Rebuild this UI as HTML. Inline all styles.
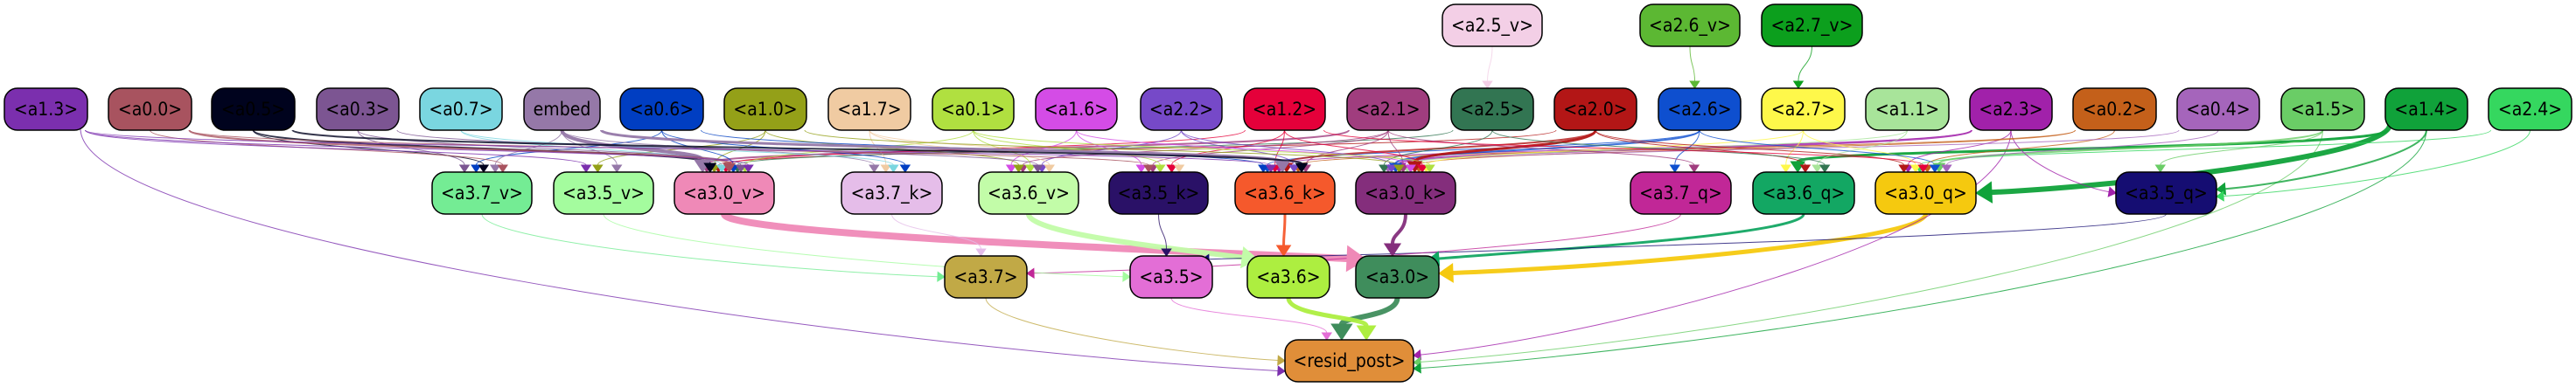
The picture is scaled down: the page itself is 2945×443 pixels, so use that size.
<!DOCTYPE html>
<html><head><meta charset="utf-8">
<style>
html,body{margin:0;padding:0;background:#fff;width:2945px;height:443px;overflow:hidden}
svg{display:block}
text{font-family:"DejaVu Sans Condensed","DejaVu Sans","Liberation Sans",sans-serif;font-size:21px;fill:#000}
</style></head><body>
<svg id="s" width="2945" height="443" viewBox="0 0 2945 443" xmlns="http://www.w3.org/2000/svg">
<g id="edges" fill="none"></g>
<g id="heads"></g>
<g id="nodes"></g>
</svg>
<script>
var N={
'a2.5_v':[1649,1763,5,'#f3cfe6'],'a2.6_v':[1875,1989,5,'#5cb833'],'a2.7_v':[2014,2129,5,'#0c9f1d'],
'a1.3':[5,100,101,'#7b2fae'],'a0.0':[124,219,101,'#a8535f'],'a0.5':[242,337,101,'#00031e'],'a0.3':[362,456,101,'#7c5592'],
'a0.7':[480,574,101,'#7ad6e0'],'embed':[599,686,101,'#9578a8'],'a0.6':[709,804,101,'#003ec2'],'a1.0':[828,922,101,'#94a018'],
'a1.7':[947,1041,101,'#f0cba2'],'a0.1':[1066,1159,101,'#b0e040'],'a1.6':[1184,1277,101,'#d44ce6'],'a2.2':[1304,1397,101,'#7649c8'],
'a1.2':[1422,1515,101,'#e5003a'],'a2.1':[1540,1634,101,'#a03d7e'],'a2.5':[1659,1753,101,'#327552'],'a2.0':[1777,1871,101,'#b31616'],
'a2.6':[1896,1990,101,'#0e4fcf'],'a2.7':[2014,2109,101,'#fef84a'],'a1.1':[2133,2228,101,'#a8e49a'],'a2.3':[2252,2346,101,'#a121aa'],
'a0.2':[2370,2465,101,'#c4601a'],'a0.4':[2489,2583,101,'#a565bb'],'a1.5':[2608,2703,101,'#6acd66'],'a1.4':[2727,2821,101,'#10a23a'],
'a2.4':[2845,2940,101,'#35d75f'],
'a3.7_v':[494,608,197,'#74ec94'],'a3.5_v':[633,747,197,'#a4fc9e'],'a3.0_v':[771,885,197,'#ef89b7'],'a3.7_k':[962,1077,197,'#e5bde9'],
'a3.6_v':[1119,1233,197,'#c2fca8'],'a3.5_k':[1268,1381,197,'#2a1167'],'a3.6_k':[1412,1526,197,'#f5592c'],'a3.0_k':[1550,1664,197,'#842e7c'],
'a3.7_q':[1864,1979,197,'#c12797'],'a3.6_q':[2004,2120,197,'#13a763'],'a3.0_q':[2144,2259,197,'#f5c90f'],'a3.5_q':[2419,2534,197,'#150d72'],
'a3.7':[1080,1174,293,'#c1a946'],'a3.5':[1292,1386,293,'#e36ed6'],'a3.6':[1426,1520,293,'#adee40'],'a3.0':[1550,1645,293,'#3f8d5c'],
'resid_post':[1469,1616,389,'#e08e39']};
var E=[
['a2.5_v','a2.5',1],['a2.6_v','a2.6',1],['a2.7_v','a2.7',1],
['a3.0_v','a3.0',8,'#ef89b7','TL'],['a3.6_v','a3.6',6,0,'TL'],['a3.6_k','a3.6',3],['a3.0_k','a3.0',4],['a3.5_k','a3.5',1],
['a3.6_q','a3.0',3,0,'TR'],['a3.0_q','a3.0',5,0,'R'],['a3.5_q','a3.5',1,0,'TR'],['a3.7_q','a3.7',1,0,'R'],['a3.7_k','a3.7',1],['a3.7_v','a3.7',1,0,'L'],['a3.5_v','a3.5',1,0,'L'],
['a3.0','resid_post',6],['a3.6','resid_post',5],['a3.5','resid_post',1],['a3.7','resid_post',1,0,'L'],['a1.3','resid_post',1,0,'L'],
['a2.3','resid_post',1,0,'R'],['a1.5','resid_post',1,0,'R'],['a1.4','resid_post',1,0,'R'],
['a1.4','a3.0_q',6,0,'R'],['a1.4','a3.5_q',2,0,'R'],['a1.4','a3.6_q',3],['a2.4','a3.5_q',1,0,'R'],['a2.4','a3.0_q',1],['a1.5','a3.5_q',1],['a1.5','a3.0_q',2],
['a2.3','a3.5_q',1,0,'L'],['a2.3','a3.0_q',1],['a2.3','a3.0_k',2],['a2.3','a3.6_k',1],['a0.2','a3.0_q',1],['a0.2','a3.0_k',1],['a0.2','a3.6_k',1],
['a0.4','a3.0_q',1],['a0.4','a3.0_k',1],['a1.1','a3.6_q',1],['a1.1','a3.0_k',1],['a2.7','a3.0_q',1],['a2.7','a3.6_q',1],['a2.7','a3.0_k',1],
['a2.6','a3.7_q',1],['a2.6','a3.0_q',1],['a2.6','a3.0_k',2],['a2.6','a3.6_k',1],['a2.0','a3.0_k',3],['a2.0','a3.6_k',2],['a2.0','a3.0_q',1],['a2.0','a3.6_q',1],['a2.0','a3.0_v',1],
['a2.5','a3.0_k',1],['a2.5','a3.6_q',1],['a2.5','a3.0_v',1],['a2.1','a3.7_q',1],['a2.1','a3.0_k',1],['a2.1','a3.6_k',1],['a2.1','a3.5_k',1],['a2.1','a3.0_v',2],['a2.1','a3.6_v',1],
['a1.2','a3.0_k',1],['a1.2','a3.6_k',1],['a1.2','a3.5_k',1],['a1.2','a3.0_q',1],['a1.2','a3.0_v',1],['a2.2','a3.6_k',1],['a2.2','a3.0_k',1],['a2.2','a3.6_v',1],
['a1.6','a3.6_v',1],['a1.6','a3.5_k',1],['a1.6','a3.0_k',1],['a0.1','a3.6_v',1],['a0.1','a3.5_k',1],['a0.1','a3.0_v',1],['a0.1','a3.0_k',1],
['a1.7','a3.7_k',1],['a1.7','a3.6_v',1],['a1.7','a3.5_k',1],['a1.0','a3.0_v',1],['a1.0','a3.5_v',1],['a1.0','a3.0_k',1],['a1.0','a3.6_v',1],
['a0.6','a3.0_v',1],['a0.6','a3.7_k',1],['a0.6','a3.7_v',1],['a0.6','a3.6_k',1],['embed','a3.0_v',4],['embed','a3.7_v',1],['embed','a3.5_v',1],['embed','a3.7_k',1],['embed','a3.6_k',3],
['a0.7','a3.7_k',1],['a0.7','a3.0_v',1],['a0.3','a3.7_v',1],['a0.3','a3.0_v',1],['a0.3','a3.6_v',1],['a0.5','a3.7_v',1],['a0.5','a3.0_v',2],['a0.5','a3.6_k',2],
['a0.0','a3.7_v',1],['a0.0','a3.0_v',2],['a0.0','a3.5_k',1],['a1.3','a3.0_v',1],['a1.3','a3.5_v',1],['a1.3','a3.6_k',1]];
var ns='http://www.w3.org/2000/svg',eg=document.getElementById('edges'),hg=document.getElementById('heads'),ng=document.getElementById('nodes');
function el(t,a,p){var e=document.createElementNS(ns,t);for(var k in a)e.setAttribute(k,a[k]);p.appendChild(e);return e;}
var cnt={};
E.forEach(function(e){
 var a=N[e[0]],b=N[e[1]],c=e[3]||a[3],w=e[2],side=e[4]||'T';
 var sx=(a[0]+a[1])/2,sy=a[2]+48;
 var tx,ty,c2x,c2y;
 var key=e[1];
 if(side==='T'){
  cnt[key]=(cnt[key]||0)+1;
  var off=((cnt[key]*23)%60)-30;
  tx=(b[0]+b[1])/2+off*((b[1]-b[0])/120);ty=b[2];
  if(Math.abs(sx-tx)>600){sx=sx+(tx>sx?45:-45);}
  c2x=tx;c2y=ty-(ty-sy)*0.55;
 } else if(side==='L'){
  tx=b[0];ty=b[2]+(key==='resid_post'?(e[0]==='a1.3'?36:24):24);
  if(e[0]==='a1.3'){sx=a[1]-8;sy=a[2]+46;}
  c2x=tx-(tx-sx)*0.35;c2y=ty-(ty-sy)*0.1;
 } else if(side==='R'){
  tx=b[1];ty=b[2]+(key==='resid_post'?(e[0]==='a2.3'?18:(e[0]==='a1.5'?26:33)):(e[0]==='a2.4'?28:20));
  if(key==='a3.0_q'&&e[0]==='a1.4'){ty=b[2]+24;sx=a[0]+5;sy=a[2]+42;}
  c2x=tx+(sx-tx)*0.35;c2y=ty-(ty-sy)*0.1;
 } else if(side==='TL'){
  tx=b[0]+12;ty=b[2]+4;c2x=tx-(tx-sx)*0.3;c2y=ty-(ty-sy)*0.2;
 } else {
  tx=b[1]-12;ty=b[2]+4;c2x=tx+(sx-tx)*0.3;c2y=ty-(ty-sy)*0.2;
 }
 var dy=ty-sy, hl=6+w*2;
 var ang=Math.atan2(ty-c2y,tx-c2x);
 var ex=tx-Math.cos(ang)*hl, ey=ty-Math.sin(ang)*hl;
 var c1x=sx,c1y=sy+Math.max(dy,20)*0.45;
 var d='M'+sx+','+sy+' C'+c1x+','+c1y+' '+c2x+','+c2y+' '+ex+','+ey;
 el('path',{d:d,stroke:c,'stroke-width':w,'stroke-opacity':w>2?0.95:0.8},eg);
 var hw=4+w*1.3,px=-Math.sin(ang),py=Math.cos(ang);
 el('polygon',{points:tx+','+ty+' '+(ex+px*hw)+','+(ey+py*hw)+' '+(ex-px*hw)+','+(ey-py*hw),fill:c,stroke:c},hg);
});
for(var k in N){var n=N[k];
 el('rect',{x:n[0],y:n[2],width:n[1]-n[0],height:48,rx:15,ry:15,fill:n[3],stroke:'#000','stroke-width':1.5},ng);
 var t=el('text',{x:(n[0]+n[1])/2,y:n[2]+31,'text-anchor':'middle'},ng);
 t.textContent=k==='embed'?'embed':'<'+k+'>';
}
</script>
</body></html>
